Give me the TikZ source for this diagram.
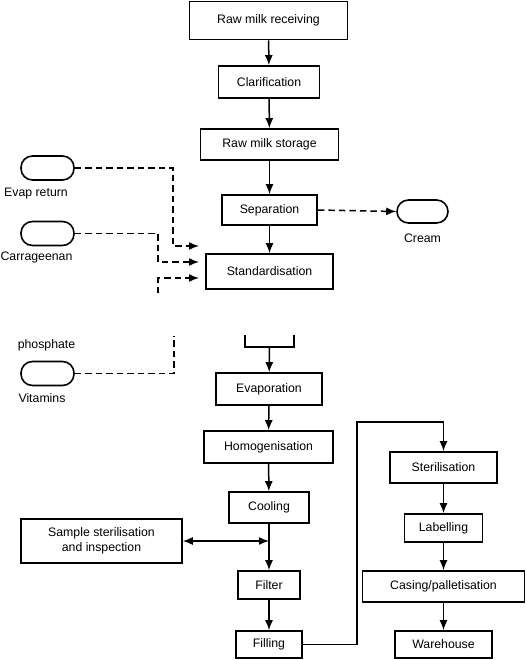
\documentclass[tikz,border=0pt]{standalone}
\usepackage{fontspec}
\setmainfont{Liberation Sans}
\usetikzlibrary{arrows.meta,calc}
\begin{document}
\begin{tikzpicture}[x=1pt,y=-1pt,
  every node/.style={font=\fontsize{12.3pt}{15pt}\selectfont},
  box/.style={draw, line width=1.6pt, inner sep=0pt, align=center},
  capsule/.style={draw, line width=1.6pt, inner sep=0pt, minimum width=53pt, minimum height=24pt, rounded corners=11.5pt},
  lbl/.style={inner sep=0pt},
  arr/.style={line width=1.5pt, -{Latex[length=10pt,width=8pt]}},
  arrb/.style={line width=1.5pt, {Latex[length=10pt,width=8pt]}-{Latex[length=10pt,width=8pt]}},
  ln/.style={line width=1.5pt},
  dsh/.style={line width=1.5pt, dash pattern=on 6.5pt off 4pt},
  dsharr/.style={dsh, -{Latex[length=10pt,width=8pt]}}]
\useasboundingbox (0,0) rectangle (525,660);
% main column
\node[box, minimum width=158pt, minimum height=38pt] (raw) at (268.5,20.5) {Raw milk receiving};
\node[box, minimum width=101pt, minimum height=32pt] (clar) at (269,82) {Clarification};
\node[box, minimum width=138pt, minimum height=31pt] (stor) at (269.5,144.5) {Raw milk storage};
\node[box, minimum width=95pt, minimum height=30pt] (sep) at (269.5,210) {Separation};
\node[box, minimum width=127pt, minimum height=35pt] (std) at (269.5,271.5) {Standardisation};
\node[box, minimum width=106pt, minimum height=32pt] (evap) at (269,389) {Evaporation};
\node[box, minimum width=129pt, minimum height=32pt] (homo) at (268.5,447) {Homogenisation};
\node[box, minimum width=80pt, minimum height=31pt] (cool) at (269,507.5) {Cooling};
\node[box, minimum width=62pt, minimum height=28pt] (filt) at (269,585) {Filter};
\node[box, minimum width=66pt, minimum height=27pt] (fill) at (269,644.5) {Filling};
% side
\node[box, minimum width=161pt, minimum height=44pt] (samp) at (101.5,541) {Sample sterilisation\\and inspection};
\node[capsule, minimum width=51pt, minimum height=23pt] (cream) at (422.5,211.5) {};
\node[lbl] (creaml) at (422.5,238) {Cream};
% right column
\node[box, minimum width=107pt, minimum height=31pt] (ster) at (443.5,467.5) {Sterilisation};
\node[box, minimum width=78pt, minimum height=28pt] (lab) at (443.5,528) {Labelling};
\node[box, minimum width=162pt, minimum height=31pt] (cas) at (443.5,586.5) {Casing/palletisation};
\node[box, minimum width=97pt, minimum height=27pt] (ware) at (443.5,644.5) {Warehouse};
% ingredients
\node[capsule] (er) at (47.5,168) {};
\node[lbl] (erl) at (36,194) {Evap return};
\node[capsule] (car) at (47.5,233.5) {};
\node[lbl] (carl) at (36.5,257.5) {Carrageenan};
\node[lbl] (phl) at (46.5,345) {phosphate};
\node[capsule] (vit) at (47.5,373.5) {};
\node[lbl] (vitl) at (42,398) {Vitamins};
% coordinates
\coordinate (s1) at (199,246);
\coordinate (s2) at (199,262);
\coordinate (s3) at (199,278);
\coordinate (p1) at (158,293);
\coordinate (v1) at (174,336);
\coordinate (bl) at (245,335);
\coordinate (br) at (294,335);
\coordinate (bm) at (269.5,347);
\coordinate (bend) at (357,422);
% main connectors
\draw[arr] (raw) -- (clar);
\draw[arr] (clar) -- (stor);
\draw[arr] (stor) -- (sep);
\draw[arr] (sep) -- (std);
\draw[ln] (bl) |- (bm) -| (br);
\draw[arr] (bm) -- (evap);
\draw[arr] (evap) -- (homo);
\draw[arr] (homo) -- (cool);
\draw[arr] (cool) -- (filt);
\draw[arr] (filt) -- (fill);
\draw[arrb] (samp.east) -- (samp.east -| cool.south);
\draw[arr] (fill.east) -| (bend) -| (ster.north);
\draw[arr] (ster) -- (lab);
\draw[arr] (lab) -- (cas);
\draw[arr] (cas) -- (ware);
% dashed
\draw[dsharr] (sep.east) -- (cream.west);
\draw[dsharr] (er.east) -| ($(s1)+(-26,0)$) -- (s1);
\draw[dsharr] (car.east) -| ($(s2)+(-41,0)$) -- (s2);
\draw[dsharr] (p1) |- (s3);
\draw[dsh] (vit.east) -| (v1);
\end{tikzpicture}
\end{document}
